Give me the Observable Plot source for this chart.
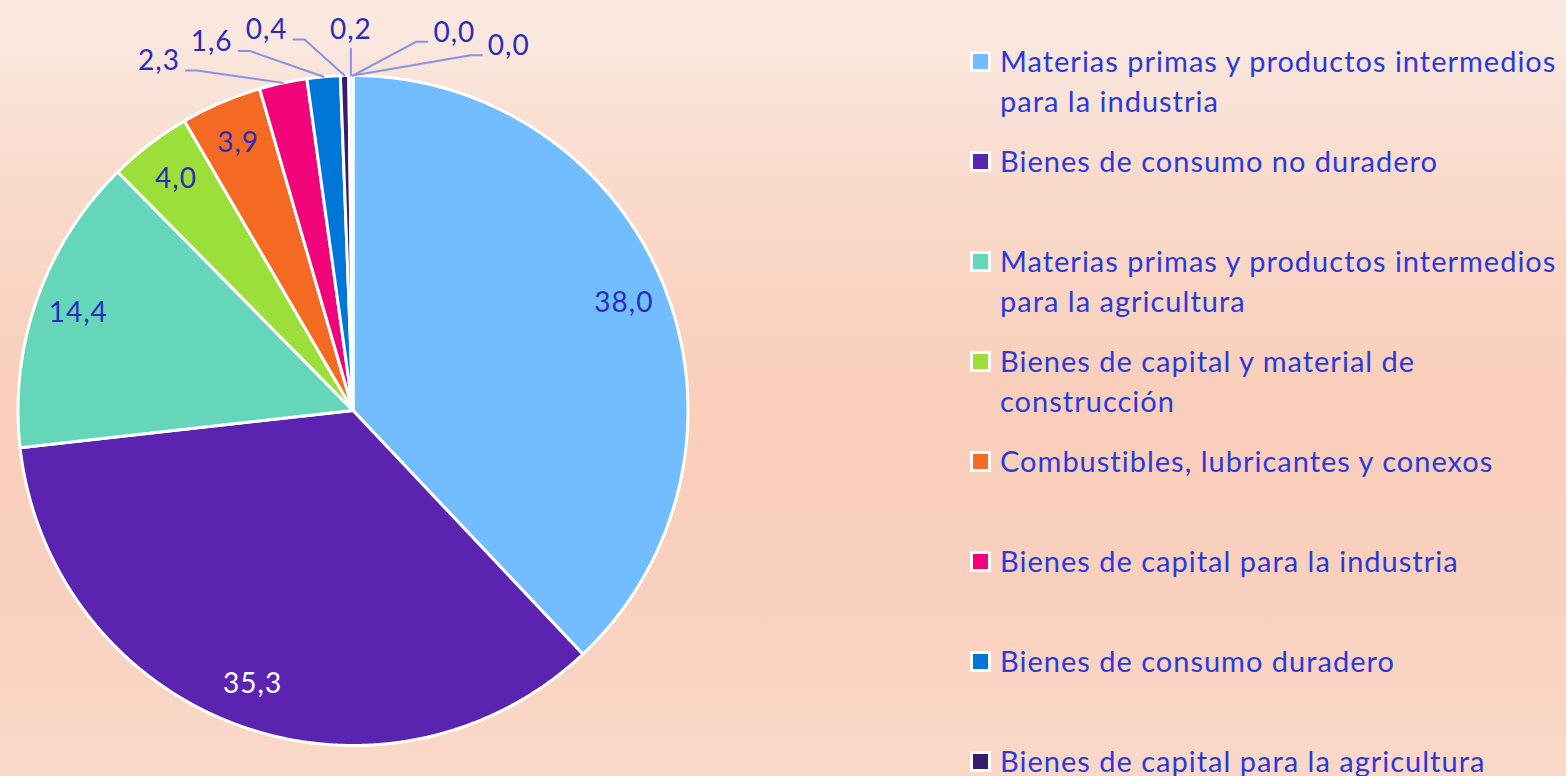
<!DOCTYPE html>
<html><head><meta charset="utf-8">
<script src="https://cdn.jsdelivr.net/npm/d3@7"></script>
<script src="https://cdn.jsdelivr.net/npm/@observablehq/plot@0.6"></script>
<style>
html,body{margin:0;padding:0;width:1566px;height:776px;overflow:hidden;}
body{background:linear-gradient(to bottom,#FAEAE2 0%,#F9DACB 25%,#F9CFBB 50%,#F9D0BE 75%,#FAD8C8 100%);font-family:Lato,sans-serif;position:relative;}
#chart{position:absolute;left:0;top:0;}
#legend{position:absolute;left:970px;top:41px;width:596px;}
.item{position:relative;height:100px;padding-left:30px;font-size:29px;line-height:40px;color:#2C39DA;letter-spacing:1px;}
.sw{position:absolute;left:0;top:10px;width:15px;height:15px;border:3px solid #fff;}
</style></head><body>
<div id="chart"></div><div id="legend"></div>
<script>
const categories = [
  "Materias primas y productos intermedios para la industria",
  "Bienes de consumo no duradero",
  "Materias primas y productos intermedios para la agricultura",
  "Bienes de capital y material de construcción",
  "Combustibles, lubricantes y conexos",
  "Bienes de capital para la industria",
  "Bienes de consumo duradero",
  "Bienes de capital para la agricultura",
  "Equipo de transporte",
  "Diversos",
  "Efectos personales"
];
const values = [38.0, 35.3, 14.4, 4.0, 3.9, 2.3, 1.6, 0.4, 0.2, 0.0, 0.0];
const colors = ["#71BDFF", "#5B24B0", "#66D6BB", "#9CDF3B", "#F46A22", "#F1037A", "#0077D8", "#3A1A6C", "#DDEEEA", "#C9D9F5", "#E8E0F5"];

const data = categories.map((c, i) => ({cat: c, value: values[i], color: colors[i], label: values[i].toFixed(1).replace(".", ",")}));
const arcs = d3.pie().sort(null).value(d => d.value)(data);

const R_PX = 335, CX = 352.5, CY = 410, W = 760, H = 776;
const pt = (a, r) => [r * Math.sin(a), r * Math.cos(a)];

// slice polygons
const slicePts = [];
arcs.forEach(a => {
  if (a.value <= 0) return;
  const n = Math.max(2, Math.ceil((a.endAngle - a.startAngle) / 0.004));
  slicePts.push({cat: a.data.cat, x: 0, y: 0});
  for (let k = 0; k <= n; k++) {
    const t = a.startAngle + (a.endAngle - a.startAngle) * k / n;
    const [x, y] = pt(t, 1);
    slicePts.push({cat: a.data.cat, x, y});
  }
  slicePts.push({cat: a.data.cat, x: 0, y: 0});
});

// inside labels
const inside = arcs.filter(a => a.value >= 3).map(a => {
  const m = (a.startAngle + a.endAngle) / 2;
  const [x, y] = pt(m, 0.87);
  return {x, y, text: a.data.label, dark: d3.hsl(a.data.color).l < 0.45};
});

// outside labels with spread layout
const small = arcs.filter(a => a.value < 3);
const mids = small.map(a => { let m = (a.startAngle + a.endAngle) / 2; return m > Math.PI ? m - 2 * Math.PI : m; });
const meanMid = d3.mean(mids);
const sep = 8.6 * Math.PI / 180;
const leaderPts = [], outLabels = [];
small.forEach((a, i) => {
  const ang = meanMid + (i - (small.length - 1) / 2) * sep;
  const [ax, ay] = pt(mids[i], 1.0);
  let side;
  if (Math.abs(ang) < 2 * Math.PI / 180) side = "top";
  else side = ang < 0 ? "left" : "right";
  if (side === "top") {
    const ty = 1.08;
    leaderPts.push({cat: a.data.cat, x: ax, y: ay}, {cat: a.data.cat, x: ax, y: ty});
    outLabels.push({x: ax, y: ty, text: a.data.label, side});
  } else {
    const [ex, ey] = pt(ang, 1.117);
    const hx = ex + (side === "left" ? -11 : 11) / R_PX;
    leaderPts.push({cat: a.data.cat, x: ax, y: ay}, {cat: a.data.cat, x: ex, y: ey}, {cat: a.data.cat, x: hx, y: ey});
    outLabels.push({x: hx, y: ey, text: a.data.label, side});
  }
});

const labelColor = "#2A2DB8";
const fs = 28;
const common = {x: "x", y: "y", text: "text", fontSize: fs, letterSpacing: 1};
const chart = Plot.plot({
  width: W, height: H, margin: 0,
  style: {background: "transparent", fontFamily: "Lato, sans-serif", overflow: "visible"},
  x: {domain: [-CX / R_PX, (W - CX) / R_PX], axis: null},
  y: {domain: [-(H - CY) / R_PX, CY / R_PX], axis: null},
  color: {domain: categories, range: colors},
  marks: [
    Plot.line(slicePts, {x: "x", y: "y", z: "cat", fill: "cat", stroke: "white", strokeWidth: 3, strokeLinejoin: "round", curve: "linear"}),
    Plot.line(leaderPts, {x: "x", y: "y", z: "cat", stroke: "#8C90E8", strokeWidth: 2, strokeLinejoin: "round"}),
    Plot.text(inside.filter(d => !d.dark), {...common, fill: labelColor}),
    Plot.text(inside.filter(d => d.dark), {...common, fill: "white"}),
    Plot.text(outLabels.filter(d => d.side === "left"), {...common, fill: labelColor, textAnchor: "end", lineAnchor: "bottom", dx: -6}),
    Plot.text(outLabels.filter(d => d.side === "right"), {...common, fill: labelColor, textAnchor: "start", lineAnchor: "bottom", dx: 6}),
    Plot.text(outLabels.filter(d => d.side === "top"), {...common, fill: labelColor, textAnchor: "middle", lineAnchor: "bottom", dy: -10})
  ]
});
chart.querySelectorAll("text").forEach(t => t.style.letterSpacing = "1px");
document.getElementById("chart").appendChild(chart);

const legend = document.getElementById("legend");
data.forEach(d => {
  const item = document.createElement("div");
  item.className = "item";
  const sw = document.createElement("span");
  sw.className = "sw";
  sw.style.background = d.color;
  item.appendChild(sw);
  item.appendChild(document.createTextNode(d.cat));
  legend.appendChild(item);
});
</script></body></html>
